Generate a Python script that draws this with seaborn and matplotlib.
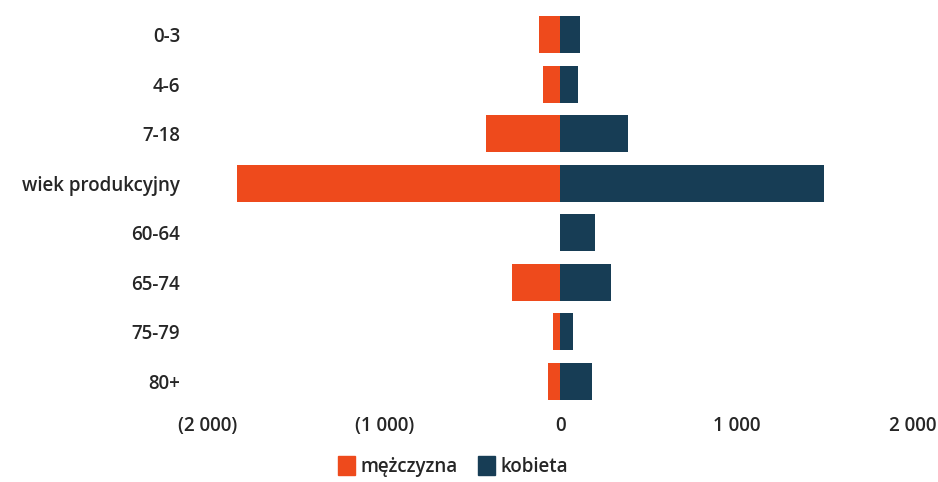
import pandas as pd
import numpy as np
import matplotlib.pyplot as plt
import seaborn as sns
from matplotlib.patches import Patch

# Data
age_groups = ['0-3', '4-6', '7-18', 'wiek produkcyjny', '60-64', '65-74', '75-79', '80+']
men = [124, 100, 424, 1836, 0, 277, 40, 68]
women = [113, 100, 384, 1497, 198, 288, 73, 181]
tick_values = [-2000, -1000, 0, 1000, 2000]
tick_labels = ['(2 000)', '(1 000)', '0', '1 000', '2 000']

orange = '#EE4A1C'
navy = '#173D55'

df = pd.DataFrame({
    'grupa': age_groups * 2,
    'liczba': [-v for v in men] + women,
    'plec': ['mężczyzna'] * len(men) + ['kobieta'] * len(women),
})

sns.set_style('white')
plt.rcParams['font.family'] = ['Open Sans', 'DejaVu Sans']

fig = plt.figure(figsize=(9.38, 4.82), dpi=100)
ax = fig.add_axes([0.2217, 0.158, 0.7516, 0.821])

sns.barplot(data=df, x='liczba', y='grupa', hue='plec', order=age_groups,
            hue_order=['mężczyzna', 'kobieta'], palette=[orange, navy],
            saturation=1, linewidth=0, dodge=False, width=0.75, orient='h',
            legend=False, ax=ax)

ax.set_xlim(-2000, 2000)
ax.set_ylim(7.5, -0.5)
ax.set_xticks(tick_values)
ax.set_xticklabels(tick_labels, fontsize=13.5, fontweight='semibold')
ax.tick_params(axis='x', length=0, pad=7)
ax.tick_params(axis='y', length=0, pad=20, labelsize=13.5)
for lbl in ax.get_yticklabels():
    lbl.set_fontweight('semibold')
ax.set_xlabel('')
ax.set_ylabel('')
sns.despine(ax=ax, left=True, bottom=True)

handles = [Patch(color=orange, label='mężczyzna'), Patch(color=navy, label='kobieta')]
fig.legend(handles=handles, loc='center', bbox_to_anchor=(0.483, 0.032), ncol=2,
           frameon=False, handlelength=0.9, handleheight=1.2, handletextpad=0.3,
           columnspacing=1.1, prop={'size': 13.5, 'weight': 'semibold'})

plt.savefig('out.png', dpi=100)
